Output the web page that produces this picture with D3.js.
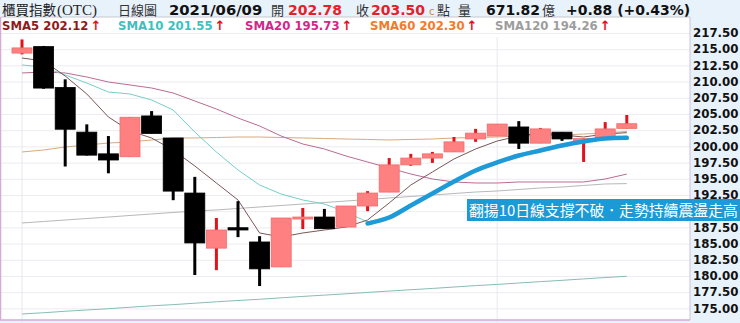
<!DOCTYPE html>
<html lang="zh-TW">
<head>
<meta charset="utf-8">
<script src="https://cdn.jsdelivr.net/npm/d3@7/dist/d3.min.js"></script>
<style>
  html, body { margin: 0; padding: 0; background: #ffffff; }
  svg { display: block; }
</style>
</head>
<body>
<svg id="chart" width="740" height="323"></svg>
<script>
// Trading days shown on the chart
const dates = [
  "2021/04/30","2021/05/03","2021/05/04","2021/05/05","2021/05/06","2021/05/07",
  "2021/05/10","2021/05/11","2021/05/12","2021/05/13","2021/05/14","2021/05/17",
  "2021/05/18","2021/05/19","2021/05/20","2021/05/21","2021/05/24","2021/05/25",
  "2021/05/26","2021/05/27","2021/05/28","2021/05/31","2021/06/01","2021/06/02",
  "2021/06/03","2021/06/04","2021/06/07","2021/06/08","2021/06/09"
];

// Daily OHLC of the TPEx (OTC) index
const open  = [214.4, 215.4, 209.1, 202.2, 198.85, 198.4, 204.7, 201.3, 192.8, 184.3,
               187.45, 185.25, 181.4, 188.8, 189.1, 187.55, 190.8, 192.95, 197.15, 198.2,
               199.15, 201.15, 201.6, 203.0, 200.5, 202.2, 201.1, 201.15, 202.78];
const high  = [216.5, 215.5, 210.35, 203.4, 201.6, 204.5, 205.45, 201.3, 195.3, 188.95,
               191.55, 186.15, 188.95, 190.5, 190.35, 190.8, 193.1, 198.2, 198.85, 199.15,
               201.45, 202.7, 203.45, 203.9, 202.85, 202.2, 201.2, 203.75, 204.85];
const low   = [214.2, 208.9, 196.9, 198.6, 195.85, 198.4, 202.0, 191.7, 180.15, 180.9,
               186.0, 178.45, 181.4, 187.25, 187.25, 187.55, 190.0, 192.95, 197.0, 197.45,
               199.15, 200.7, 201.6, 199.6, 200.5, 200.85, 197.6, 201.15, 202.78];
const close = [215.2, 209.0, 202.65, 198.65, 197.9, 204.5, 202.0, 193.1, 185.1, 187.1,
               187.1, 181.1, 188.95, 189.1, 187.3, 190.8, 192.8, 197.15, 198.2, 198.85,
               200.7, 202.05, 203.45, 200.5, 202.7, 201.15, 201.2, 202.7, 203.5];

// Moving averages
const sma5   = [213.64, 213.18, 210.86, 208.09, 204.54, 202.38, 201.30, 199.44, 196.98, 194.35,
                191.73, 186.64, 186.02, 186.64, 187.10, 187.56, 188.64, 191.27, 194.04, 196.05,
                198.06, 199.60, 200.83, 201.60, 202.07, 201.76, 201.45, 201.91, 202.12];
const sma10  = [212.56, 212.25, 211.02, 209.78, 208.39, 208.09, 207.16, 205.62, 202.22, 199.14,
                196.36, 194.04, 192.65, 191.73, 191.11, 189.88, 188.33, 189.26, 191.11, 192.96,
                194.81, 196.51, 197.75, 198.83, 199.60, 200.37, 200.99, 201.45, 201.55];
const sma20  = [211.33, 211.48, 211.33, 210.71, 209.94, 209.48, 209.01, 208.24, 207.01, 205.77,
                204.38, 203.15, 201.60, 200.37, 199.60, 198.52, 197.59, 196.67, 195.74, 194.97,
                194.51, 194.35, 194.35, 194.51, 194.51, 194.51, 194.51, 194.97, 195.73];
const sma60  = [199.14, 199.44, 199.91, 200.22, 200.52, 200.68, 200.99, 201.30, 201.30, 201.37,
                201.45, 201.45, 201.37, 201.30, 201.22, 201.14, 201.07, 200.99, 201.07, 201.14,
                201.30, 201.37, 201.45, 201.60, 201.68, 201.76, 201.91, 202.07, 202.30];
const sma120 = [188.18, 188.41, 188.64, 188.87, 189.10, 189.34, 189.57, 189.80, 190.03, 190.19,
                190.42, 190.65, 190.88, 191.11, 191.34, 191.57, 191.81, 192.04, 192.27, 192.50,
                192.73, 192.96, 193.12, 193.35, 193.58, 193.73, 193.97, 194.20, 194.26];
const sma240 = [174.14, 174.33, 174.56, 174.76, 174.95, 175.18, 175.40, 175.58, 175.80, 176.02,
                176.22, 176.41, 176.63, 176.85, 177.05, 177.25, 177.47, 177.68, 177.88, 178.08,
                178.30, 178.52, 178.70, 178.92, 179.13, 179.33, 179.55, 179.76, 179.96];

// Right axis tick labels
const yTicks = [175, 177.5, 180, 182.5, 185, 187.5, 190, 192.5, 195, 197.5,
                200, 202.5, 205, 207.5, 210, 212.5, 215, 217.5];

// Days that start a vertical grid line
const vGridDates = ["2021/04/30", "2021/06/01"];

// Legend entries
const legendNames  = ["SMA5", "SMA10", "SMA20", "SMA60", "SMA120"];
const legendValues = [202.12, 201.55, 195.73, 202.30, 194.26];

const svg = d3.select("#chart");
const W = 740, H = 323;
const plot = { left: 1, right: 690, top: 17, bottom: 320 };

const x = d3.scalePoint().domain(dates).range([22, 626.8]);
const y = d3.scaleLinear().domain([175, 217.5]).range([308.4, 33]);

// Backgrounds
svg.append("rect").attr("width", W).attr("height", H).attr("fill", "#e8f2fb");
svg.append("rect")
  .attr("x", plot.left).attr("y", plot.top)
  .attr("width", plot.right - plot.left).attr("height", plot.bottom - plot.top)
  .attr("fill", "#ffffff");

// Horizontal grid
svg.append("g")
  .attr("transform", `translate(${plot.left},0)`)
  .call(d3.axisRight(y).tickValues(yTicks).tickSize(plot.right - plot.left).tickFormat(""))
  .call(g => g.select(".domain").remove())
  .call(g => g.selectAll("line").attr("stroke", "#ececf2").attr("stroke-width", 1));

// Vertical grid
svg.append("g")
  .selectAll("line").data(vGridDates).join("line")
  .attr("x1", d => x(d)).attr("x2", d => x(d))
  .attr("y1", 37).attr("y2", H)
  .attr("stroke", "#e6e8f0").attr("stroke-width", 1);

svg.append("clipPath").attr("id", "plotclip")
  .append("rect").attr("x", plot.left).attr("y", 37)
  .attr("width", plot.right - plot.left).attr("height", plot.bottom - 37);

const body = svg.append("g").attr("clip-path", "url(#plotclip)");

// Thin moving-average lines
const lineOf = arr => d3.line().x((d, i) => x(dates[i])).y(d => y(d))(arr);
const maLines = [
  { data: sma240, color: "#86bdb5" },
  { data: sma120, color: "#b8b8b8" },
  { data: sma60,  color: "#d9a97c" },
  { data: sma20,  color: "#b96c92" },
  { data: sma10,  color: "#74cfc8" },
  { data: sma5,   color: "#7d5656" }
];
body.selectAll("path.ma").data(maLines).join("path")
  .attr("class", "ma")
  .attr("d", d => lineOf(d.data))
  .attr("fill", "none")
  .attr("stroke", d => d.color)
  .attr("stroke-width", 1);

// Candlesticks
const candles = dates.map((d, i) => ({ d, o: open[i], h: high[i], l: low[i], c: close[i] }));
const bw = 20;
const cg = body.selectAll("g.candle").data(candles).join("g").attr("class", "candle");
cg.append("line")
  .attr("x1", d => x(d.d)).attr("x2", d => x(d.d))
  .attr("y1", d => y(d.h)).attr("y2", d => y(d.l))
  .attr("stroke", d => d.c >= d.o ? "#e0121b" : "#000000")
  .attr("stroke-width", 3);
cg.append("rect")
  .attr("x", d => x(d.d) - bw / 2)
  .attr("y", d => y(Math.max(d.o, d.c)))
  .attr("width", bw)
  .attr("height", d => Math.max(2, Math.abs(y(d.o) - y(d.c))))
  .attr("fill", d => d.c >= d.o ? "#ff8080" : "#000000")
  .attr("stroke", d => d.c >= d.o ? "#f06c6c" : "#000000")
  .attr("stroke-width", 0.8);

// Highlighted 10-day line
const hlStart = 16;
body.append("path")
  .attr("d", d3.line().curve(d3.curveMonotoneX)
    .x((d, i) => x(dates[i + hlStart]))
    .y(d => y(d) + 1.5)(sma10.slice(hlStart)))
  .attr("fill", "none")
  .attr("stroke", "#1f9ad8")
  .attr("stroke-width", 4.5)
  .attr("stroke-linecap", "round");

// Frame
svg.append("line").attr("x1", plot.left).attr("x2", plot.right).attr("y1", plot.top).attr("y2", plot.top)
  .attr("stroke", "#c9c9cf");
svg.append("line").attr("x1", plot.right).attr("x2", plot.right).attr("y1", plot.top).attr("y2", plot.bottom)
  .attr("stroke", "#cdbfe0");
svg.append("line").attr("x1", 0.5).attr("x2", 0.5).attr("y1", plot.top).attr("y2", plot.bottom)
  .attr("stroke", "#d7a9d9").attr("stroke-width", 1.5);
svg.append("line").attr("x1", 0).attr("x2", plot.right).attr("y1", plot.bottom).attr("y2", plot.bottom)
  .attr("stroke", "#d7a9d9").attr("stroke-width", 1.5);

// Right axis labels
svg.append("g")
  .attr("transform", `translate(${plot.right},0)`)
  .call(d3.axisRight(y).tickValues(yTicks).tickSize(0).tickPadding(3).tickFormat(d3.format(".2f")))
  .call(g => g.select(".domain").remove())
  .call(g => g.selectAll("text")
    .attr("fill", "#111")
    .attr("font-family", "'DejaVu Sans', Verdana, sans-serif")
    .attr("font-weight", "bold")
    .attr("font-size", "11.8px"));

// Header line
const cjk = "'Noto Sans CJK TC', sans-serif";
const num = "'DejaVu Sans', Verdana, sans-serif";
const header = [
  { t: "櫃買指數", x: 2, f: cjk, s: 13.5, w: "normal", c: "#222" },
  { t: "(OTC)", x: 57, f: "'Liberation Serif', serif", s: 15, w: "normal", c: "#222" },
  { t: "日線圖", x: 118, f: cjk, s: 13, w: "normal", c: "#333" },
  { t: "2021/06/09", x: 169, f: num, s: 14.8, w: "bold", c: "#111" },
  { t: "開", x: 271, f: cjk, s: 13, w: "normal", c: "#333" },
  { t: "202.78", x: 288, f: num, s: 14, w: "bold", c: "#e3212b" },
  { t: "收", x: 356, f: cjk, s: 13, w: "normal", c: "#333" },
  { t: "203.50", x: 371, f: num, s: 14, w: "bold", c: "#e3212b" },
  { t: "c", x: 429, f: num, s: 10, w: "normal", c: "#c98a4a" },
  { t: "點", x: 437, f: cjk, s: 13, w: "normal", c: "#333" },
  { t: "量", x: 458, f: cjk, s: 13, w: "normal", c: "#333" },
  { t: "671.82", x: 486, f: num, s: 14, w: "bold", c: "#111" },
  { t: "億", x: 542, f: cjk, s: 13, w: "normal", c: "#333" },
  { t: "+0.88 (+0.43%)", x: 566, f: num, s: 14, w: "bold", c: "#111" }
];
svg.append("g").selectAll("text").data(header).join("text")
  .attr("x", d => d.x).attr("y", 14.5)
  .attr("font-family", d => d.f).attr("font-size", d => d.s + "px")
  .attr("font-weight", d => d.w).attr("fill", d => d.c)
  .text(d => d.t);

// Legend
const legendColors = ["#8e1b1b", "#3fbfbf", "#d3268a", "#ef7b2e", "#9d9d9d"];
const legendX = [2, 118, 245, 370, 495];
const lg = svg.append("g").selectAll("g").data(legendNames).join("g")
  .attr("transform", (d, i) => `translate(${legendX[i]},30)`);
lg.append("text")
  .attr("font-family", num).attr("font-weight", "bold").attr("font-size", "11.7px")
  .attr("fill", (d, i) => legendColors[i])
  .text((d, i) => `${d} ${legendValues[i].toFixed(2)}`)
  .each(function () {
    const w = this.getComputedTextLength();
    d3.select(this.parentNode).append("text")
      .attr("x", w + 2)
      .attr("font-family", num).attr("font-weight", "bold").attr("font-size", "13px")
      .attr("fill", "#e0121b")
      .text("↑");
  });

// Annotation
const note = svg.append("g");
note.append("rect").attr("x", 467).attr("y", 199).attr("width", 273).attr("height", 22)
  .attr("fill", "#1b9ad6");
const noteText = note.append("text").attr("x", 469).attr("y", 215.5)
  .attr("font-family", cjk).attr("font-size", "15px").attr("fill", "#ffffff")
  .text("翻揚10日線支撐不破．走勢持續震盪走高");
// shrink the font so the sentence fits inside its box
const fitW = 269;
const tw = noteText.node().getComputedTextLength();
if (tw > fitW) noteText.attr("font-size", (15 * fitW / tw).toFixed(2) + "px");
</script>
</body>
</html>
